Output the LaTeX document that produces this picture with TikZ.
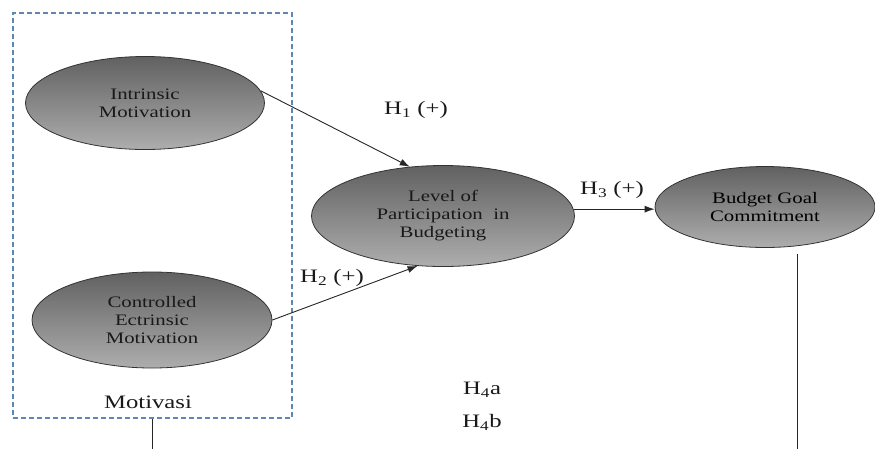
\documentclass[tikz,border=0pt]{standalone}
\usepackage{fontspec}
\setmainfont{Liberation Serif}[FakeStretch=1.3]
\usetikzlibrary{arrows.meta,shapes.geometric,positioning}
\definecolor{boxblue}{RGB}{95,135,180}

\begin{document}
\begin{tikzpicture}[x=1pt,y=-1pt,->,>={Latex[length=10pt,width=7pt]},
                    line width=0.9pt, draw=black!85, text=black!90]

  \tikzstyle{construct} = [ellipse, draw=black!80, line width=0.8pt, top color=black!62,
                           bottom color=black!32, inner sep=0pt, align=center,
                           font=\fontsize{16}{18}\selectfont]
  \tikzstyle{hyp} = [font=\fontsize{19}{21}\selectfont, inner sep=0pt]

  \useasboundingbox (0,0) rectangle (875,448);

  % motivation group
  \node[draw=boxblue, dash pattern=on 5pt off 3pt, line width=1.1pt,
        minimum width=279pt, minimum height=405pt] (motiv) at (152.5,215.5) {};
  \node[font=\fontsize{19}{21}\selectfont] (motivLbl) at (148,402) {Motivasi};

  \node[construct, minimum width=239pt, minimum height=93pt] (intr) at (145,103)
        {Intrinsic\\Motivation};
  \node[construct, minimum width=240pt, minimum height=96pt] (ctrl) at (152,320)
        {Controlled\\Ectrinsic\\Motivation};
  \node[construct, minimum width=263pt, minimum height=101pt] (level) at (443,216)
        {Level of\\Participation\ \ in\\Budgeting};
  \node[construct, minimum width=220pt, minimum height=81pt, text=black] (budget) at (765,207)
        {Budget Goal\\Commitment};

  % hypothesis labels
  \node[hyp] (hOne)   at (416,110) {H\textsubscript{1} (+)};
  \node[hyp] (hTwo)   at (332,278) {H\textsubscript{2} (+)};
  \node[hyp] (hThree) at (612,190) {H\textsubscript{3} (+)};
  \node[hyp] (hFourA) at (482,390) {H\textsubscript{4}a};
  \node[hyp] (hFourB) at (482,422) {H\textsubscript{4}b};

  \coordinate (motivDown) at (152,460);
  \coordinate (bgcDown)   at (797,460);

  \path (intr.6)   edge (level.124)
        (ctrl.east) edge (level.243)
        (level.3)  edge (level.3 -| budget.west);

  \draw[-] (motiv.south -| motivDown) -- (motivDown);
  \draw[-] ([yshift=-6pt]budget.south -| bgcDown) -- (bgcDown);
\end{tikzpicture}
\end{document}
